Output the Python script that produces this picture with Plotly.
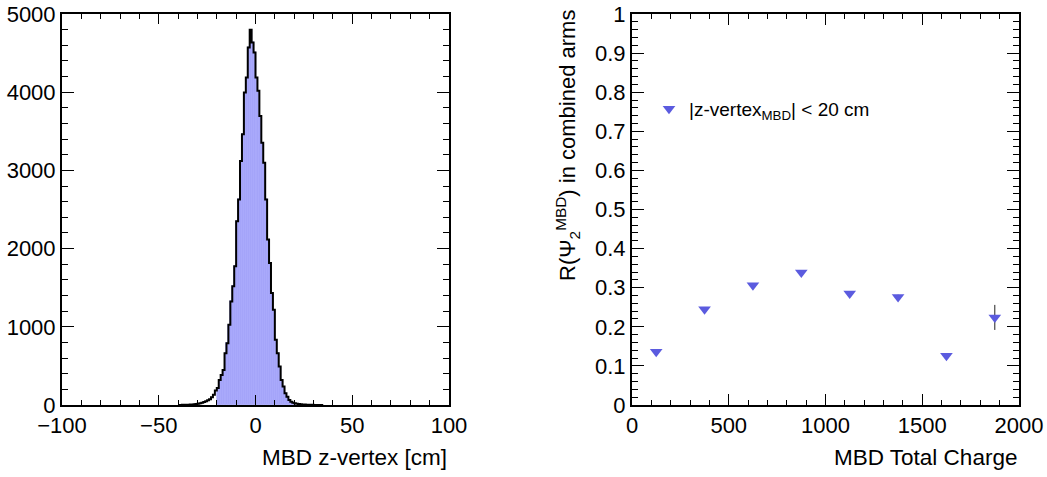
import plotly.graph_objects as go

# ---------------- data ----------------
# left: MBD z-vertex histogram (1 cm bins), low edges and counts
zvtx_bin_low = list(range(-40, 35))
zvtx_counts = [
    1, 1, 2, 2, 3, 4, 5, 7, 9, 12,            # -40 .. -31
    16, 22, 30, 38, 48, 60, 75, 100, 130, 185,  # -30 .. -21
    218, 321, 385, 449, 663, 791, 1026, 1324, 1517, 1773,  # -20 .. -11
    2350, 2628, 3119, 3461, 3996, 4188, 4573, 4800, 4637, 4508,  # -10 .. -1
    4188, 4017, 3696, 3354, 3098, 2628, 2115, 1816, 1432, 1218,  # 0 .. 9
    833, 663, 491, 320, 235, 150, 107, 64, 43, 30,  # 10 .. 19
    22, 16, 12, 9, 7, 5, 4, 3, 2, 2,  # 20 .. 29
    1, 1, 1, 0, 0,  # 30 .. 34
]
zvtx_bin_width = 1
zvtx_cut = 20

# right: event-plane resolution vs MBD total charge
charge_centers = [125, 375, 625, 875, 1125, 1375, 1625, 1875]
res_vals = [0.136, 0.245, 0.306, 0.339, 0.285, 0.276, 0.126, 0.224]
res_errs = [0.003, 0.003, 0.004, 0.004, 0.005, 0.006, 0.006, 0.032]

# ---------------- styling ----------------
FONT = "Liberation Sans"
W, H = 1047, 477
FILL = "#a5a5fa"
MARK = "#5b5bdf"

fig = go.Figure()

# filled part (|z| < cut)
sel = [i for i, lo in enumerate(zvtx_bin_low) if -zvtx_cut <= lo < zvtx_cut]
fig.add_trace(go.Bar(
    x=[zvtx_bin_low[i] + zvtx_bin_width / 2 for i in sel],
    y=[zvtx_counts[i] for i in sel],
    width=zvtx_bin_width,
    marker=dict(color=FILL, line=dict(color=FILL, width=0.6)),
    xaxis="x", yaxis="y", showlegend=False, hoverinfo="skip",
))

# outline of the full histogram (step)
step_x = zvtx_bin_low + [zvtx_bin_low[-1] + zvtx_bin_width]
step_y = zvtx_counts + [zvtx_counts[-1]]
fig.add_trace(go.Scatter(
    x=step_x, y=step_y, mode="lines", line=dict(color="black", width=2, shape="hv"),
    xaxis="x", yaxis="y", showlegend=False, hoverinfo="skip",
))

# resolution points
fig.add_trace(go.Scatter(
    x=charge_centers, y=res_vals, mode="markers",
    marker=dict(symbol="triangle-down", size=11, color=MARK),
    error_y=dict(type="data", array=res_errs, color="#222222", thickness=1, width=0),
    xaxis="x2", yaxis="y2", name="|z-vertex<sub>MBD</sub>| < 20 cm", showlegend=True,
))

top_px, bot_px = 14, 405
ydom = [1 - bot_px / H, 1 - top_px / H]

common = dict(
    ticks="inside", mirror="ticks", showline=True, linecolor="black", linewidth=2,
    tickcolor="black", tickwidth=1, showgrid=False, zeroline=False,
    tickfont=dict(family=FONT, size=22, color="black"), automargin=False,
)

fig.update_layout(
    width=W, height=H,
    margin=dict(l=0, r=0, t=0, b=0),
    paper_bgcolor="white", plot_bgcolor="white",
    bargap=0,
    font=dict(family=FONT, color="black"),
    xaxis=dict(domain=[62 / W, 449 / W], range=[-100, 100], dtick=50, ticklen=10,
               minor=dict(dtick=10, ticklen=5, ticks="inside", tickcolor="black"),
               anchor="y", **common),
    yaxis=dict(domain=ydom, range=[0, 5000], dtick=1000, ticklen=12,
               minor=dict(dtick=200, ticklen=6, ticks="inside", tickcolor="black"),
               anchor="x", **common),
    xaxis2=dict(domain=[632 / W, 1019 / W], range=[0, 2000], dtick=500, ticklen=11,
                minor=dict(dtick=100, ticklen=5, ticks="inside", tickcolor="black"),
                anchor="y2", **common),
    yaxis2=dict(domain=ydom, range=[0, 1], dtick=0.1, ticklen=12,
                minor=dict(dtick=0.02, ticklen=6, ticks="inside", tickcolor="black"),
                tickformat="~g", anchor="x2", **common),
    legend=dict(x=649 / W, y=1 - 90 / H, xanchor="left", yanchor="top",
                bgcolor="rgba(0,0,0,0)", font=dict(family=FONT, size=19, color="black")),
    annotations=[
        dict(text="MBD z-vertex [cm]", xref="paper", yref="paper", x=449 / W, y=1 - 472 / H,
             xanchor="right", yanchor="bottom", showarrow=False,
             font=dict(family=FONT, size=22.5, color="black")),
        dict(text="MBD Total Charge", xref="paper", yref="paper", x=1019 / W, y=1 - 472 / H,
             xanchor="right", yanchor="bottom", showarrow=False,
             font=dict(family=FONT, size=22.5, color="black")),
        dict(text="R(Ψ<sub>2</sub><sup>MBD</sup>) in combined arms", xref="paper", yref="paper",
             x=567 / W, y=1 - 146 / H, xanchor="center", yanchor="middle", textangle=-90,
             showarrow=False, font=dict(family=FONT, size=22, color="black")),
    ],
)

fig.write_html("out.html", config={"displayModeBar": False},
               post_script="document.body.style.margin='0';")
